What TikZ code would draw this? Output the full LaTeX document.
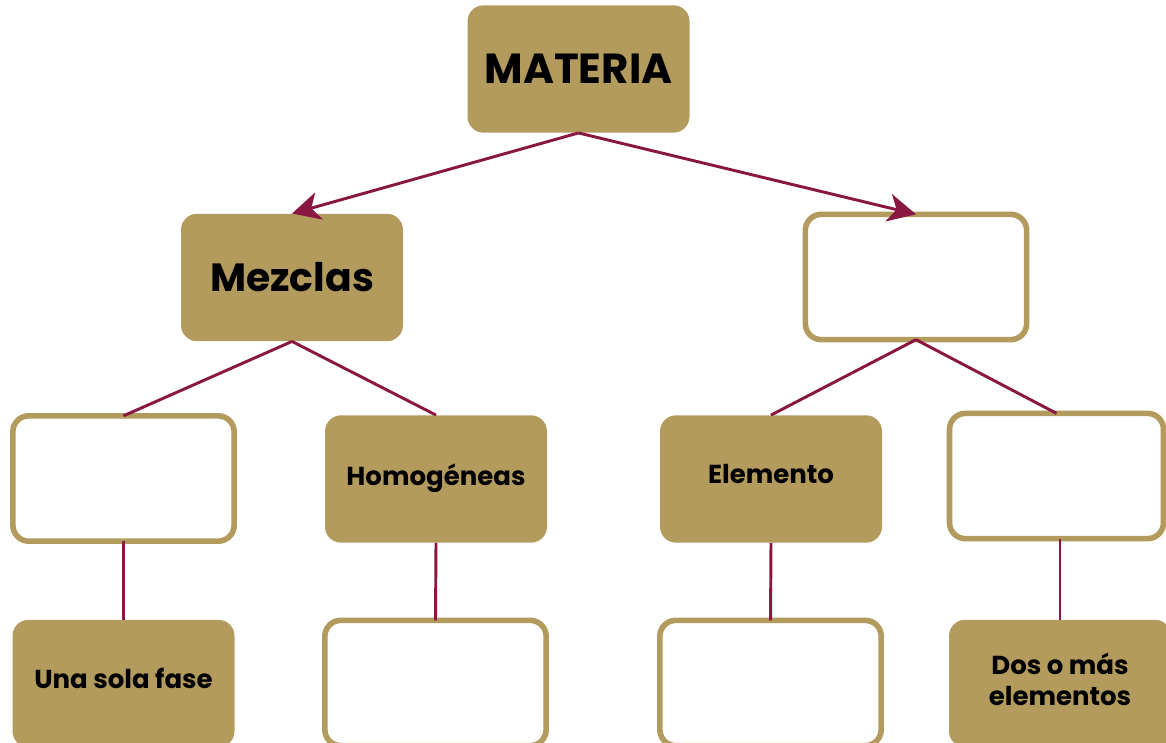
\documentclass[tikz,border=0pt]{standalone}
\usepackage{fontspec}
\setmainfont{Poppins}
\usepackage{tikz}
\usetikzlibrary{arrows.meta}
\definecolor{oro}{HTML}{B39A5D}
\definecolor{vino}{HTML}{8A1642}

\begin{document}
\begin{tikzpicture}[x=0.75pt, y=-0.75pt,
  lleno/.style={fill=oro, rounded corners=12pt, minimum width=166.5pt, minimum height=95.5pt, align=center, font=\bfseries\fontsize{19.5}{23}\selectfont, inner sep=0pt},
  vacio/.style={draw=oro, line width=4.2pt, fill=white, rounded corners=12pt, minimum width=166pt, minimum height=94pt, inner sep=0pt, outer sep=0pt},
  liga/.style={vino, line width=2.2pt},
  flecha/.style={liga, -{Stealth[length=21pt, width=21pt, inset=6pt]}}]
\useasboundingbox (0,0) rectangle (1166,742);
\clip (0,0) rectangle (1166,742);
% nivel 1 y 2
\node[lleno, font=\bfseries\fontsize{31.5}{34}\selectfont] (materia) at (578.5,69) {MATERIA};
\node[lleno, font=\bfseries\fontsize{29.5}{32}\selectfont] (mezclas) at (292,277.5) {Mezclas};
\node[vacio] (sustancias) at (916,277) {};
% nivel 3
\node[vacio] (heterogeneas) at (123.5,478.5) {};
\node[lleno] (homogeneas) at (436,479) {\raisebox{7pt}{Homogéneas}};
\node[lleno] (elemento) at (771,479) {\raisebox{7pt}{Elemento}};
\node[vacio, minimum width=160.5pt] (compuesto) at (1056.5,476) {};
% nivel 4
\node[lleno] (unafase) at (123.5,683.5) {\raisebox{8pt}{Una sola fase}};
\node[vacio] (homovacio) at (435.5,683) {};
\node[vacio] (elemvacio) at (770.5,683) {};
\node[lleno] (dosomas) at (1060,683.5) {\raisebox{2pt}{\begin{tabular}{@{}c@{}}Dos o más\\elementos\end{tabular}}};
% conectores
\draw[flecha] (materia.south) -- (mezclas.north);
\draw[flecha] (materia.south) -- (sustancias.north);
\foreach \a/\b in {mezclas/heterogeneas, mezclas/homogeneas, sustancias/elemento, sustancias/compuesto,
  heterogeneas/unafase, homogeneas/homovacio, elemento/elemvacio} {
  \draw[liga] (\a.south) -- (\b.north);
}
\draw[liga] (compuesto.south -| dosomas.north) -- (dosomas.north);
\end{tikzpicture}
\end{document}
